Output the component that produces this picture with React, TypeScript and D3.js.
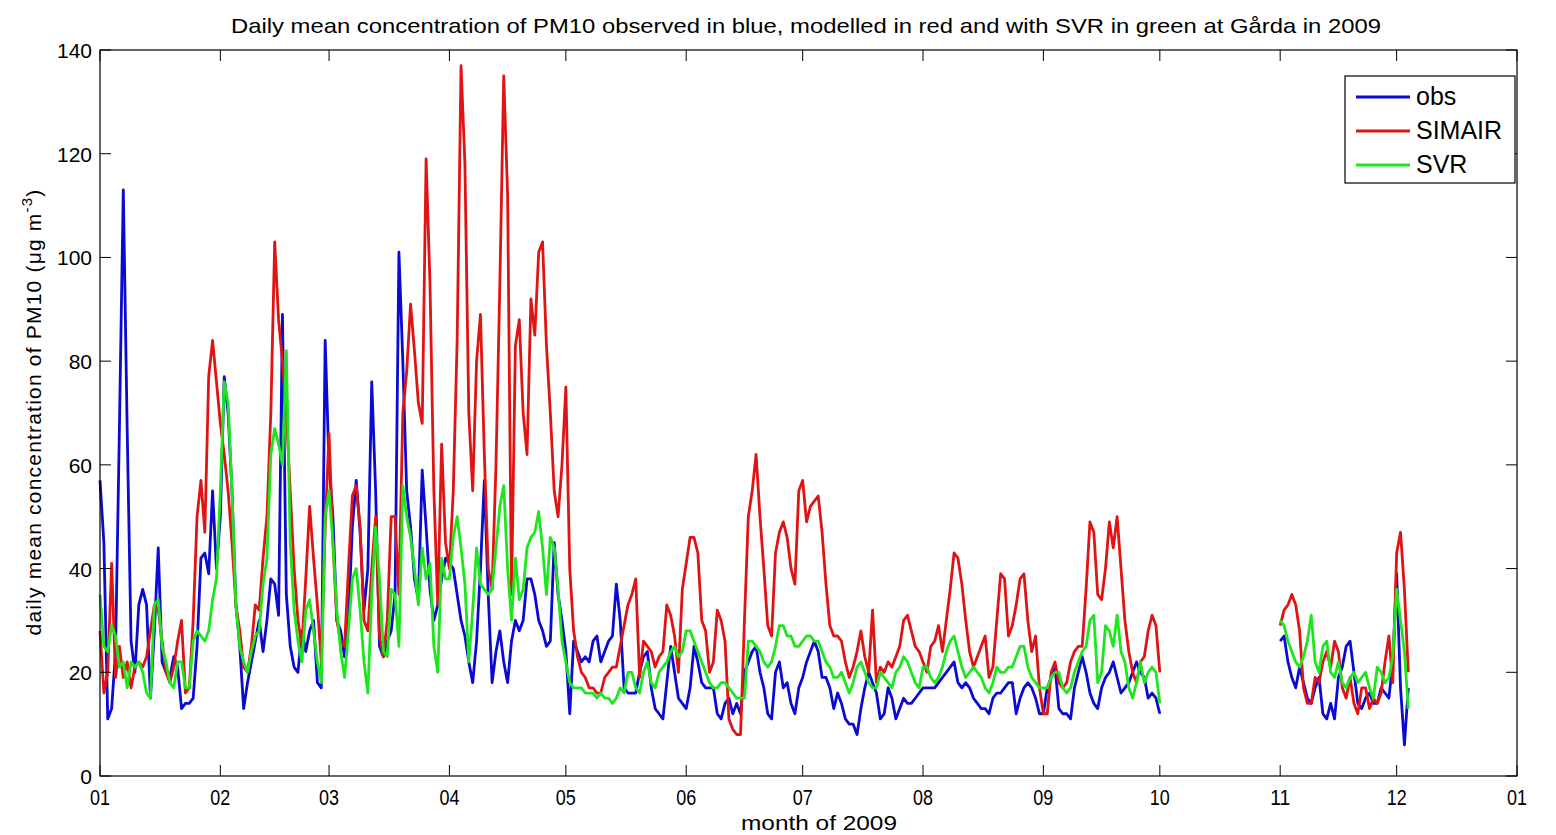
import React, { useEffect, useRef } from 'react';
import * as d3 from 'd3';

// daily values from 2009-01-01, null where no data (October gap)
const obs = [
  57, 45, 11, 13, 24, 67, 113, 67, 26, 20, 33, 36, 33, 15, 28, 44, 22, 20, 19, 23, 21, 13, 14, 14, 15, 25, 42, 43, 39, 55, 40,
  50, 77, 70, 55, 33, 25, 13, 18, 22, 26, 30, 24, 30, 38, 37, 31, 89, 35, 25, 21, 20, 28, 24, 28, 30, 18, 17, 84,
  60, 50, 30, 28, 23, 30, 48, 57, 47, 32, 40, 76, 55, 25, 23, 26, 28, 35, 101, 80, 55, 48, 38, 34, 59, 48, 36, 30, 33, 38, 42,
  41, 40, 35, 30, 27, 22, 18, 26, 40, 57, 35, 18, 24, 28, 22, 18, 26, 30, 28, 30, 38, 38, 35, 30, 28, 25, 26, 45, 35, 30,
  24, 12, 26, 24, 22, 23, 22, 26, 27, 22, 24, 26, 27, 37, 30, 17, 16, 16, 16, 20, 23, 24, 17, 13, 12, 11, 18, 25, 20, 15, 14, 13, 17, 25,
  22, 18, 17, 17, 17, 12, 11, 14, 15, 12, 14, 12, 20, 22, 24, 25, 20, 17, 12, 11, 20, 22, 17, 18, 14, 12, 17, 19, 22, 24,
  26, 24, 19, 19, 17, 13, 16, 14, 11, 10, 10, 8, 13, 17, 20, 18, 16, 11, 12, 17, 15, 11, 13, 15, 14, 14, 15, 16, 17, 17, 17,
  17, 18, 19, 20, 21, 22, 18, 17, 18, 17, 15, 14, 13, 13, 12, 15, 16, 16, 17, 18, 18, 12, 15, 17, 18, 17, 15, 12, 12, 17, 19,
  21, 13, 12, 12, 11, 17, 20, 23, 20, 16, 14, 13, 17, 19, 20, 22, 19, 16, 17, 18, 20, 22, 20, 19, 15, 16, 15,
  12, null, null, null, null, null, null, null, null, null, null, null, null, null, null, null, null, null, null, null, null, null, null, null, null, null, null, null, null, null, null,
  26, 27, 22, 19, 17, 21, 18, 15, 14, 17, 19, 12, 11, 14, 11, 19, 21, 25, 26, 20, 14, 13, 15, 16, 14, 14, 17, 16, 15, 22,
  39, 17, 6, 17
];

const simair = [
  28, 16, 20, 41, 19, 25, 19, 22, 17, 21, 22, 21, 23, 28, 33, 32, 26, 20, 18, 21, 26, 30, 16, 17, 30, 50, 57, 47, 77, 84, 76,
  68, 62, 55, 45, 33, 28, 21, 20, 25, 33, 32, 42, 50, 70, 103, 88, 80, 70, 55, 40, 30, 25, 38, 52, 42, 33, 22, 48,
  66, 45, 30, 26, 25, 40, 54, 56, 48, 30, 28, 40, 50, 27, 23, 30, 50, 50, 35, 70, 78, 91, 82, 72, 68, 119, 95, 55, 33, 64, 45,
  40, 55, 84, 137, 118, 70, 55, 80, 89, 62, 40, 36, 60, 95, 135, 112, 35, 83, 88, 70, 62, 92, 85, 101, 103, 83, 70, 55, 50, 60,
  75, 40, 28, 23, 20, 19, 17, 17, 16, 16, 19, 20, 21, 21, 25, 29, 33, 35, 38, 19, 26, 25, 24, 21, 23, 24, 33, 31, 27, 20, 36, 41, 46, 46,
  43, 30, 28, 20, 22, 32, 30, 26, 11, 9, 8, 8, 30, 50, 55, 62, 50, 40, 29, 27, 43, 47, 49, 46, 40, 37, 55, 57, 49, 52,
  53, 54, 47, 37, 29, 27, 27, 26, 22, 19, 21, 24, 28, 23, 20, 32, 18, 21, 20, 22, 21, 23, 25, 30, 31, 28, 25, 24, 22, 20, 25,
  26, 29, 24, 30, 36, 43, 42, 37, 30, 24, 21, 23, 25, 27, 19, 21, 30, 39, 38, 27, 29, 33, 38, 39, 30, 24, 27, 17, 12, 12, 20,
  22, 18, 17, 18, 22, 24, 25, 25, 36, 49, 47, 35, 34, 40, 49, 44, 50, 40, 30, 24, 20, 18, 22, 23, 28, 31, 29,
  20, null, null, null, null, null, null, null, null, null, null, null, null, null, null, null, null, null, null, null, null, null, null, null, null, null, null, null, null, null, null,
  29, 32, 33, 35, 33, 28, 17, 14, 14, 19, 18, 22, 24, 21, 26, 24, 17, 15, 19, 14, 12, 17, 17, 13, 15, 14, 16, 22, 27, 18,
  43, 47, 36, 20
];

const svr = [
  35, 25, 24, 29, 27, 21, 22, 17, 22, 21, 22, 20, 16, 15, 33, 34, 25, 22, 18, 17, 22, 22, 17, 17, 26, 28, 27, 26, 28, 34, 38,
  55, 76, 72, 55, 33, 25, 22, 20, 24, 27, 28, 37, 42, 62, 67, 64, 60, 82, 45, 32, 26, 22, 32, 34, 28, 22, 18, 50,
  55, 45, 32, 24, 19, 28, 38, 40, 32, 22, 16, 35, 48, 38, 24, 23, 36, 35, 25, 56, 50, 46, 40, 33, 44, 38, 41, 25, 20, 42, 38,
  38, 46, 50, 44, 37, 22, 32, 44, 37, 36, 35, 36, 44, 52, 56, 40, 30, 42, 34, 36, 44, 46, 47, 51, 44, 35, 46, 44, 36, 26,
  22, 18, 17, 17, 17, 16, 16, 16, 15, 16, 15, 15, 14, 15, 17, 16, 20, 20, 17, 16, 20, 22, 18, 17, 20, 21, 22, 24, 25, 23, 24, 28, 28, 26,
  24, 22, 20, 18, 17, 17, 18, 18, 17, 16, 15, 15, 15, 26, 26, 25, 24, 22, 21, 22, 25, 29, 29, 27, 27, 25, 25, 26, 27, 27,
  26, 26, 24, 22, 21, 19, 19, 20, 18, 16, 18, 21, 22, 20, 18, 17, 17, 20, 19, 18, 17, 20, 21, 23, 22, 20, 18, 17, 21, 21, 19,
  18, 19, 21, 24, 26, 27, 24, 21, 19, 20, 21, 20, 19, 17, 16, 18, 21, 20, 20, 21, 21, 23, 25, 25, 21, 19, 18, 17, 17, 17, 19,
  20, 20, 17, 16, 17, 20, 22, 24, 25, 30, 31, 18, 20, 29, 28, 25, 31, 24, 22, 17, 15, 18, 22, 18, 20, 21, 20,
  14, null, null, null, null, null, null, null, null, null, null, null, null, null, null, null, null, null, null, null, null, null, null, null, null, null, null, null, null, null, null,
  30, 29, 26, 24, 22, 21, 23, 26, 31, 22, 20, 25, 26, 20, 19, 22, 18, 17, 19, 20, 18, 19, 20, 17, 15, 21, 20, 18, 19, 23,
  36, 30, 24, 13
];

const seriesNames = ['obs', 'SIMAIR', 'SVR'];
const seriesColors = ['#0a0ad2', '#e01414', '#1ee61e'];
const yTicks = [0, 20, 40, 60, 80, 100, 120, 140];

const W = 1556, H = 835;
const margin = { left: 100, right: 1517, top: 50, bottom: 776 };

function Chart() {
  const ref = useRef(null);

  useEffect(() => {
    const svg = d3.select(ref.current);
    svg.selectAll('*').remove();

    const start = new Date(2009, 0, 1);
    const end = new Date(2010, 0, 1);
    const x = d3.scaleTime().domain([start, end]).range([margin.left, margin.right]);
    const y = d3.scaleLinear().domain([0, 140]).range([margin.bottom, margin.top]);
    const monthTicks = d3.timeMonth.range(start, d3.timeDay.offset(end, 1));
    const tickLen = 11;
    const narrow = '"Liberation Sans Narrow", "Liberation Sans", Arial, sans-serif';
    const sans = '"Liberation Sans", Arial, sans-serif';

    svg.append('rect').attr('width', W).attr('height', H).attr('fill', '#fff');

    // series
    const line = d3.line()
      .defined(d => d[1] != null)
      .x(d => x(d[0]))
      .y(d => y(d[1]));

    [obs, simair, svr].forEach((vals, k) => {
      const pts = vals.map((v, i) => [d3.timeDay.offset(start, i), v]);
      svg.append('path')
        .datum(pts)
        .attr('fill', 'none')
        .attr('stroke', seriesColors[k])
        .attr('stroke-width', 2.8)
        .attr('stroke-linejoin', 'round')
        .attr('d', line);
    });

    // frame
    svg.append('rect')
      .attr('x', margin.left).attr('y', margin.top)
      .attr('width', margin.right - margin.left)
      .attr('height', margin.bottom - margin.top)
      .attr('fill', 'none').attr('stroke', '#000').attr('stroke-width', 1.2);

    // x ticks (inside, top and bottom)
    const gx = svg.append('g');
    monthTicks.forEach(t => {
      const px = x(t);
      gx.append('line').attr('x1', px).attr('x2', px)
        .attr('y1', margin.bottom).attr('y2', margin.bottom - tickLen)
        .attr('stroke', '#000');
      gx.append('line').attr('x1', px).attr('x2', px)
        .attr('y1', margin.top).attr('y2', margin.top + tickLen)
        .attr('stroke', '#000');
      gx.append('text')
        .attr('x', px).attr('y', 805)
        .attr('text-anchor', 'middle')
        .attr('font-family', narrow)
        .attr('font-size', 22)
        .attr('textLength', 20)
        .attr('lengthAdjust', 'spacingAndGlyphs')
        .text(d3.timeFormat('%m')(t));
    });

    // y ticks
    const gy = svg.append('g');
    yTicks.forEach(v => {
      const py = y(v);
      gy.append('line').attr('x1', margin.left).attr('x2', margin.left + tickLen)
        .attr('y1', py).attr('y2', py).attr('stroke', '#000');
      gy.append('line').attr('x1', margin.right).attr('x2', margin.right - tickLen)
        .attr('y1', py).attr('y2', py).attr('stroke', '#000');
      gy.append('text')
        .attr('x', 92).attr('y', py + 8)
        .attr('text-anchor', 'end')
        .attr('font-family', sans)
        .attr('font-size', 21)
        .text(v);
    });

    // title
    svg.append('text')
      .attr('x', 806).attr('y', 33)
      .attr('text-anchor', 'middle')
      .attr('font-family', narrow)
      .attr('font-size', 21)
      .attr('textLength', 1150)
      .attr('lengthAdjust', 'spacingAndGlyphs')
      .text('Daily mean concentration of PM10 observed in blue, modelled in red and with SVR in green at Gårda in 2009');

    // x label
    svg.append('text')
      .attr('x', 819).attr('y', 830)
      .attr('text-anchor', 'middle')
      .attr('font-family', narrow)
      .attr('font-size', 21)
      .attr('textLength', 156)
      .attr('lengthAdjust', 'spacingAndGlyphs')
      .text('month of 2009');

    // y label
    const yl = svg.append('text')
      .attr('transform', 'translate(41,412) rotate(-90)')
      .attr('text-anchor', 'middle')
      .attr('font-family', sans)
      .attr('font-size', 21)
      .attr('letter-spacing', 1.2);
    yl.append('tspan').text('daily mean concentration of PM10 (\u03bcg m');
    yl.append('tspan').attr('dy', -9).attr('font-size', 15).text('-3');
    yl.append('tspan').attr('dy', 9).text(')');

    // legend
    const lg = svg.append('g');
    lg.append('rect')
      .attr('x', 1345).attr('y', 76).attr('width', 170).attr('height', 107)
      .attr('fill', '#fff').attr('stroke', '#000').attr('stroke-width', 1.2);
    seriesNames.forEach((name, k) => {
      const ly = 97 + k * 34;
      lg.append('line')
        .attr('x1', 1356).attr('x2', 1410).attr('y1', ly).attr('y2', ly)
        .attr('stroke', seriesColors[k]).attr('stroke-width', 2.8);
      lg.append('text')
        .attr('x', 1416).attr('y', ly + 8)
        .attr('font-family', sans)
        .attr('font-size', 25)
        .text(name);
    });
  }, []);

  return <svg ref={ref} width={W} height={H} style={{ display: 'block' }} />;
}

export default function App() {
  return (
    <div style={{ position: 'absolute', left: 0, top: 0, background: '#fff' }}>
      <Chart />
    </div>
  );
}
